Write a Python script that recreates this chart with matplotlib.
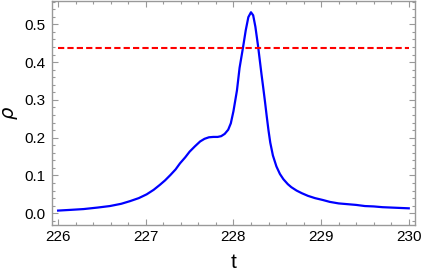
import numpy as np
import matplotlib
matplotlib.use("Agg")
import matplotlib.pyplot as plt
from matplotlib.ticker import MultipleLocator

# values
t = [226.00, 226.15, 226.29, 226.45, 226.59, 226.72, 226.82, 226.92, 227.01,
     227.09, 227.16, 227.22, 227.28, 227.34, 227.39, 227.45, 227.50, 227.56,
     227.62, 227.67, 227.72, 227.77, 227.82, 227.86, 227.90, 227.94, 227.97,
     228.00, 228.04, 228.07, 228.11, 228.14, 228.17, 228.20, 228.225, 228.25,
     228.28, 228.30, 228.32, 228.34, 228.36, 228.38, 228.40, 228.42, 228.45,
     228.49, 228.53, 228.57, 228.62, 228.66, 228.72, 228.78, 228.85, 228.93,
     229.02, 229.10, 229.20, 229.30, 229.40, 229.50, 229.60, 229.70, 229.80,
     229.90, 230.00]
rho = [0.007, 0.009, 0.011, 0.015, 0.019, 0.025, 0.032, 0.040, 0.050,
       0.062, 0.075, 0.087, 0.101, 0.116, 0.132, 0.148, 0.163, 0.177,
       0.190, 0.197, 0.201, 0.202, 0.202, 0.204, 0.210, 0.221, 0.238,
       0.270, 0.325, 0.385, 0.440, 0.484, 0.519, 0.532, 0.524, 0.494,
       0.444, 0.406, 0.368, 0.332, 0.295, 0.256, 0.219, 0.187, 0.153,
       0.124, 0.104, 0.090, 0.077, 0.069, 0.060, 0.053, 0.046, 0.040,
       0.035, 0.030, 0.026, 0.024, 0.022, 0.019, 0.018, 0.016, 0.015,
       0.014, 0.013]
threshold = 0.4375
xticks = [226, 227, 228, 229, 230]
yticks = [0.0, 0.1, 0.2, 0.3, 0.4, 0.5]

plt.rcParams['font.family'] = ['Liberation Sans', 'DejaVu Sans']

fig = plt.figure(figsize=(4.21, 2.76), dpi=100)
ax = fig.add_axes([0.1235, 0.185, 0.862, 0.813])

ax.plot(t, rho, color=(0, 0, 1), lw=1.6, solid_joinstyle='round')
ax.plot([t[0], t[-1]], [threshold, threshold], color=(1, 0, 0), lw=1.5,
        dashes=(3, 1.5))

ax.set_xlim(225.93, 230.07)
ax.set_ylim(-0.031, 0.563)
ax.set_xticks(xticks)
ax.set_xticklabels([str(v) for v in xticks])
ax.set_yticks(yticks)
ax.set_yticklabels(['%.1f' % v for v in yticks])
ax.xaxis.set_minor_locator(MultipleLocator(0.2))
ax.yaxis.set_minor_locator(MultipleLocator(0.02))

gray = '#999999'
for s in ax.spines.values():
    s.set_color(gray)
    s.set_linewidth(1.0)
ax.tick_params(which='both', direction='in', top=True, right=True,
               color=gray, width=0.8, labelcolor='black')
ax.tick_params(which='major', length=4, labelsize=11)
ax.tick_params(axis='x', which='major', pad=4)
ax.tick_params(axis='y', which='major', pad=4.5)
ax.tick_params(which='minor', length=2)

ax.set_xlabel('t', fontsize=15, labelpad=6)
ax.set_ylabel(r'$\rho$', fontsize=14, labelpad=3)

fig.savefig('out.png', dpi=100)
